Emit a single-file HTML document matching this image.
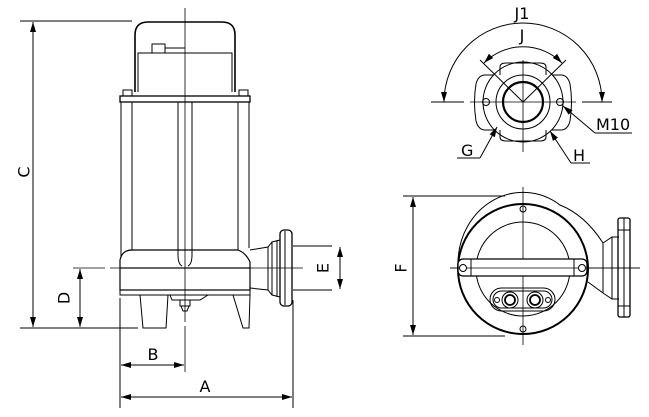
<!DOCTYPE html>
<html><head><meta charset="utf-8"><style>
html,body{margin:0;padding:0;background:#fff;}
svg{display:block;}
text{font-family:"DejaVu Sans","Liberation Sans",sans-serif;font-size:16px;fill:#000;}
</style></head><body>
<svg width="649" height="417" viewBox="0 0 649 417" xmlns="http://www.w3.org/2000/svg">
<defs>
<marker id="ar" viewBox="0 0 10 10" refX="10" refY="5" markerWidth="10" markerHeight="10" markerUnits="userSpaceOnUse" orient="auto-start-reverse">
<path d="M0,2 L10,5 L0,8 z" fill="#000"/></marker>
</defs>
<g fill="none" stroke="#000" stroke-width="1">
<line x1="185" y1="8" x2="185" y2="322" stroke-width="0.8"/>
<line x1="185" y1="326" x2="185" y2="372" stroke-width="0.8"/>
<line x1="73" y1="268" x2="105" y2="268" stroke-width="0.8"/>
<line x1="110" y1="268" x2="303" y2="268" stroke-width="0.8"/>
<path d="M135,92 L135,35 Q135,22 148,22 L222,22 Q235,22 235,35 L235,92" stroke-width="1.6"/>
<path d="M138,92 L138,53 L232,53 L232,92"/>
<rect x="152" y="44" width="13" height="9"/>
<line x1="165" y1="48" x2="185" y2="48"/>
<rect x="123" y="90" width="9" height="6"/>
<rect x="239" y="90" width="9" height="6"/>
<rect x="120" y="96" width="130" height="6" stroke-width="1.3"/>
<line x1="121" y1="102" x2="121" y2="258"/>
<line x1="132" y1="102" x2="132" y2="250"/>
<line x1="238" y1="102" x2="238" y2="250"/>
<line x1="249" y1="102" x2="249" y2="248"/>
<path d="M178,102 L178,255 Q178,264 182,266 M192,102 L192,255 Q192,264 188,266"/>
<path d="M120,268 L120,260 Q122,250 132,250 L238,250 Q246,253 250,262 L250,268" stroke-width="1.2"/>
<rect x="120" y="268" width="130" height="22" stroke-width="1.2"/>
<rect x="120" y="290" width="130" height="5"/>
<path d="M140,295 L143,328 L166,328 L168,295"/>
<path d="M233,295 L243,328 L249,328 L250,295"/>
<path d="M170,295 L172,300 L200,300 L208,295"/>
<rect x="180" y="300" width="10" height="6"/>
<path d="M181,306 L183,311 L187,311 L189,306"/>
<path d="M250,250 L268,247 L272,242 L280,240"/>
<path d="M250,288 L268,290 L272,295 L280,297"/>
<line x1="268" y1="247" x2="268" y2="290"/>
<line x1="272" y1="242" x2="272" y2="295"/>
<line x1="277" y1="240" x2="277" y2="297"/>
<rect x="280" y="230" width="12" height="76" rx="4" stroke-width="1.3"/>
<line x1="285" y1="231" x2="285" y2="305"/>
<line x1="20" y1="21" x2="132" y2="21"/>
<line x1="20" y1="328" x2="138" y2="328"/>
<line x1="33" y1="22" x2="33" y2="327" marker-start="url(#ar)" marker-end="url(#ar)"/>
<line x1="80" y1="269" x2="80" y2="327" marker-start="url(#ar)" marker-end="url(#ar)"/>
<line x1="293" y1="246" x2="332" y2="246"/>
<line x1="293" y1="290" x2="332" y2="290"/>
<line x1="340" y1="247" x2="340" y2="289" marker-start="url(#ar)" marker-end="url(#ar)"/>
<line x1="120" y1="298" x2="120" y2="408"/>
<line x1="293" y1="300" x2="293" y2="408"/>
<line x1="121" y1="365" x2="184" y2="365" marker-start="url(#ar)" marker-end="url(#ar)"/>
<line x1="121" y1="397" x2="292" y2="397" marker-start="url(#ar)" marker-end="url(#ar)"/>

<line x1="431" y1="102" x2="464" y2="102"/>
<line x1="470" y1="102" x2="576" y2="102" stroke-width="0.8"/>
<line x1="582" y1="102" x2="612" y2="102"/>
<line x1="523" y1="60" x2="523" y2="152" stroke-width="0.8"/>
<path d="M494,75 L484,75 Q478,76 476,84 Q473,102 476,121 Q478,129 484,130 L494,130"/>
<path d="M552,75 L562,75 Q568,76 570,84 Q573,102 570,121 Q568,129 562,130 L552,130"/>
<path d="M500,75 L500,67 Q500,63 506,63 L540,63 Q546,63 546,67 L546,75"/>
<path d="M500,130 L500,137 Q500,141 506,141 L540,141 Q546,141 546,137 L546,130"/>
<circle cx="523" cy="102" r="40"/>
<circle cx="523" cy="102" r="27"/>
<circle cx="523" cy="102" r="20" stroke-width="2.2"/>
<circle cx="486" cy="102" r="3.5"/>
<circle cx="560" cy="102" r="3.5"/>
<path d="M444,102 A79,79 0 0 1 602,102" marker-start="url(#ar)" marker-end="url(#ar)"/>
<path d="M484,63 A55,55 0 0 1 562,63" marker-start="url(#ar)" marker-end="url(#ar)"/>
<line x1="480" y1="60" x2="523" y2="102"/>
<line x1="566" y1="60" x2="523" y2="102"/>
<line x1="563" y1="106" x2="595" y2="133" marker-start="url(#ar)"/>
<line x1="595" y1="133" x2="632" y2="133"/>
<line x1="497" y1="127" x2="480" y2="158" marker-start="url(#ar)"/>
<line x1="457" y1="158" x2="480" y2="158"/>
<line x1="550" y1="131" x2="571" y2="163" marker-start="url(#ar)"/>
<line x1="571" y1="163" x2="590" y2="163"/>

<line x1="450" y1="268" x2="640" y2="268" stroke-width="0.8"/>
<line x1="523" y1="187" x2="523" y2="345" stroke-width="0.8"/>
<circle cx="523" cy="269" r="65" stroke-width="2"/>
<circle cx="523" cy="269" r="47"/>
<path d="M458,262 A65,71 0 0 1 560,205 Q585,215 603,243"/>
<path d="M588,282 L603,293"/>
<path d="M603,243 L612,237 L619,237 M603,293 L612,299 L619,299"/>
<line x1="603" y1="243" x2="603" y2="293"/>
<line x1="612" y1="237" x2="612" y2="299"/>
<rect x="618" y="218" width="12" height="99" rx="2" stroke-width="1.3"/>
<line x1="618" y1="230" x2="630" y2="230"/>
<line x1="618" y1="306" x2="630" y2="306"/>
<line x1="624" y1="218" x2="624" y2="317"/>
<rect x="458" y="259" width="129" height="17" rx="5" fill="#fff" stroke-width="1.3"/>
<line x1="471" y1="259" x2="471" y2="276"/>
<line x1="574" y1="259" x2="574" y2="276"/>
<line x1="450" y1="268" x2="640" y2="268" stroke-width="0.8"/>
<circle cx="463" cy="268" r="3.5" fill="#fff"/>
<circle cx="582" cy="268" r="3.5" fill="#fff"/>
<circle cx="523" cy="209" r="3"/>
<circle cx="523" cy="329" r="3"/>
<rect x="490" y="288" width="65" height="23" rx="11.5"/>
<rect x="493" y="291" width="59" height="17" rx="8.5"/>
<circle cx="510" cy="300" r="8"/>
<circle cx="510" cy="300" r="5" stroke-width="1.8"/>
<circle cx="535" cy="300" r="8"/>
<circle cx="535" cy="300" r="5" stroke-width="1.8"/>
<circle cx="497" cy="300" r="2.5"/>
<circle cx="548" cy="300" r="2.5"/>
<line x1="403" y1="196" x2="505" y2="196"/>
<line x1="403" y1="336" x2="505" y2="336"/>
<line x1="413" y1="197" x2="413" y2="335" marker-start="url(#ar)" marker-end="url(#ar)"/>
</g>
<g>
<text x="25" y="172" transform="rotate(-90 25 172)" text-anchor="middle" dominant-baseline="middle">C</text>
<text x="65" y="298" transform="rotate(-90 65 298)" text-anchor="middle" dominant-baseline="middle">D</text>
<text x="324" y="268" transform="rotate(-90 324 268)" text-anchor="middle" dominant-baseline="middle">E</text>
<text x="153" y="360" text-anchor="middle">B</text>
<text x="205" y="392" text-anchor="middle">A</text>
<text x="402" y="268" transform="rotate(-90 402 268)" text-anchor="middle" dominant-baseline="middle">F</text>
<text x="522" y="19" text-anchor="middle">J1</text>
<text x="522" y="41" text-anchor="middle">J</text>
<text x="596" y="130">M10</text>
<text x="461" y="156">G</text>
<text x="573" y="161">H</text>
</g>
</svg>
</body></html>
